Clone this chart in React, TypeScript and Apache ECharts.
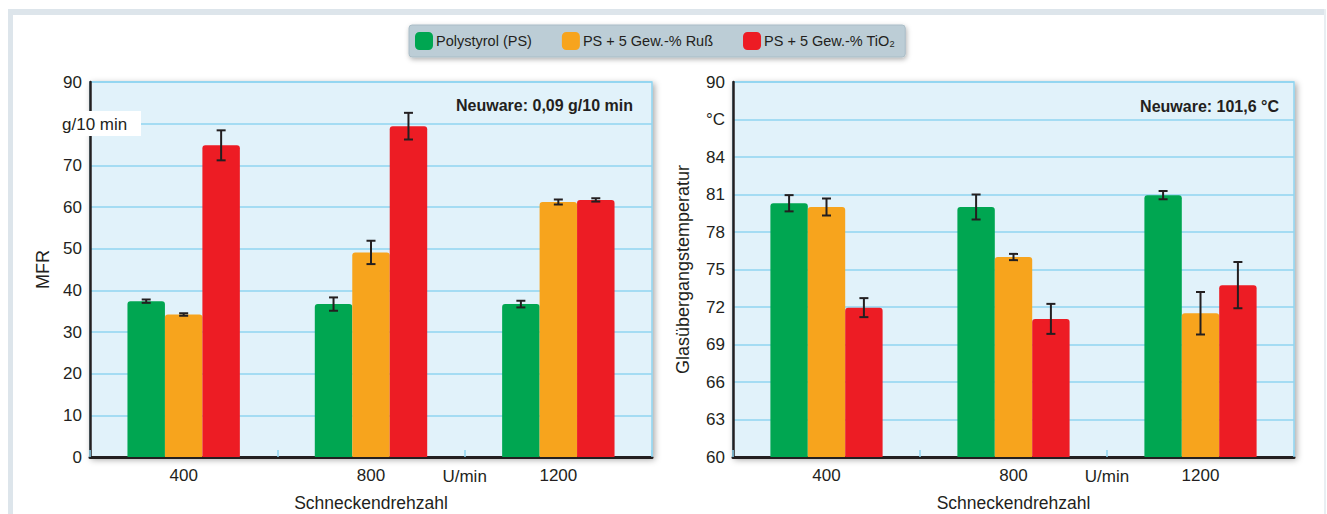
import React, { useEffect, useRef } from "react";
import * as echarts from "echarts";

const categories = ["400", "800", "1200"];
const seriesNames = ["Polystyrol (PS)", "PS + 5 Gew.-% Ruß", "PS + 5 Gew.-% TiO₂"];
const seriesColors = ["#00a651", "#f7a41d", "#ed1c24"];

// MFR (g/10 min)
const mfrPS = [37.4, 36.7, 36.7];
const mfrPSErr = [0.4, 1.6, 0.8];
const mfrRuss = [34.2, 49.1, 61.2];
const mfrRussErr = [0.3, 2.8, 0.6];
const mfrTiO2 = [74.8, 79.4, 61.7];
const mfrTiO2Err = [3.6, 3.2, 0.4];

// Glasübergangstemperatur (°C)
const tgPS = [80.3, 80.0, 80.95];
const tgPSErr = [0.65, 1.0, 0.33];
const tgRuss = [80.0, 76.0, 71.5];
const tgRussErr = [0.68, 0.25, 1.7];
const tgTiO2 = [71.95, 71.05, 73.75];
const tgTiO2Err = [0.76, 1.2, 1.85];

const mfrTicks = { min: 0, max: 90, interval: 10, unitAt: 80, unit: "g/10 min" };
const tgTicks = { min: 60, max: 90, interval: 3, unitAt: 87, unit: "°C" };

const FONT = "'Liberation Sans', Arial, sans-serif";
const TXT = "#231f20";

export default function App() {
  const ref = useRef<HTMLDivElement>(null);
  useEffect(() => {
    if (!ref.current) return;
    const chart = echarts.init(ref.current, undefined, { renderer: "svg" });

    const G0 = { left: 90, top: 82, width: 562, height: 375 };
    const G1 = { left: 733, top: 82, width: 561, height: 375 };

    const gridStyle = {
      show: true,
      outerBoundsMode: "none",
      containLabel: false,
      backgroundColor: "#e1f2fa",
      borderColor: "#8fd4f0",
      borderWidth: 1.5,
      shadowBlur: 6,
      shadowColor: "rgba(0,0,0,0.35)",
      shadowOffsetX: 2,
      shadowOffsetY: 2,
    };

    const xAxisBase = (gi: number) => ({
      type: "category",
      gridIndex: gi,
      data: categories,
      axisLine: { lineStyle: { color: TXT, width: 3 } },
      axisTick: { show: true, inside: true, length: 7, lineStyle: { color: "#8fd4f0", width: 1.5 } },
      axisLabel: { color: TXT, fontSize: 17, fontFamily: FONT, margin: 10 },
      name: "Schneckendrehzahl",
      nameLocation: "middle",
      nameGap: 37,
      nameTextStyle: { color: TXT, fontSize: 17.5, fontFamily: FONT },
    });

    const yAxisBase = (gi: number, t: any, name: string, gap: number) => ({
      type: "value",
      gridIndex: gi,
      min: t.min,
      max: t.max,
      interval: t.interval,
      axisLine: { show: true, lineStyle: { color: TXT, width: 2.5 } },
      axisTick: { show: false },
      splitLine: { lineStyle: { color: "#8fd4f0", width: 1.5 } },
      axisLabel: {
        color: TXT,
        fontSize: 17,
        fontFamily: FONT,
        margin: 8,
        formatter: (v: number) => (v === t.unitAt ? (t.unit === "°C" ? "°C" : "") : String(v)),
      },
      name,
      nameLocation: "middle",
      nameRotate: 90,
      nameGap: gap,
      nameTextStyle: { color: TXT, fontSize: 18, fontFamily: FONT },
    });

    const barSeries = (gi: number, idx: number, data: number[]) => ({
      type: "bar",
      name: seriesNames[idx],
      xAxisIndex: gi,
      yAxisIndex: gi,
      data,
      barGap: "0%",
      barCategoryGap: "40%",
      itemStyle: { color: seriesColors[idx], borderRadius: [3, 3, 0, 0] },
      z: 2,
    });

    const errSeries = (gi: number, idx: number, vals: number[], errs: number[]) => ({
      type: "custom",
      xAxisIndex: gi,
      yAxisIndex: gi,
      z: 5,
      silent: true,
      data: vals.map((v, i) => [i, v, errs[i]]),
      encode: { x: 0, y: 1 },
      renderItem: (params: any, api: any) => {
        const c = api.value(0);
        const v = api.value(1);
        const e = api.value(2);
        const bw = api.size([1, 0])[0];
        const base = api.coord([c, v]);
        const cx = base[0] + (idx - 1) * bw * 0.2;
        const hi = api.coord([c, v + e])[1];
        const lo = api.coord([c, v - e])[1];
        const cap = 4.5;
        const st = { stroke: "#231f20", lineWidth: 2 };
        return {
          type: "group",
          children: [
            { type: "line", shape: { x1: cx, y1: hi, x2: cx, y2: lo }, style: st },
            { type: "line", shape: { x1: cx - cap, y1: hi, x2: cx + cap, y2: hi }, style: st },
            { type: "line", shape: { x1: cx - cap, y1: lo, x2: cx + cap, y2: lo }, style: st },
          ],
        };
      },
    });

    const frame = "#dde5eb";
    const option: any = {
      animation: false,
      backgroundColor: "#ffffff",
      textStyle: { fontFamily: FONT },
      legend: {
        data: seriesNames,
        left: 409,
        top: 25,
        padding: [7, 10, 7, 6],
        itemWidth: 18,
        itemHeight: 18,
        itemGap: 30,
        icon: "roundRect",
        backgroundColor: "#bccdd6",
        borderColor: "#a9bcc6",
        borderWidth: 1,
        borderRadius: 3,
        shadowBlur: 5,
        shadowColor: "rgba(0,0,0,0.3)",
        shadowOffsetX: 1,
        shadowOffsetY: 2,
        textStyle: { color: TXT, fontSize: 14.5, fontFamily: FONT, padding: [0, 0, 0, -2] },
        selectedMode: false,
      },
      grid: [
        { ...G0, ...gridStyle },
        { ...G1, ...gridStyle },
      ],
      xAxis: [xAxisBase(0), xAxisBase(1)],
      yAxis: [
        yAxisBase(0, mfrTicks, "MFR", 38),
        yAxisBase(1, tgTicks, "Glasübergangstemperatur", 41),
      ],
      series: [
        barSeries(0, 0, mfrPS),
        barSeries(0, 1, mfrRuss),
        barSeries(0, 2, mfrTiO2),
        barSeries(1, 0, tgPS),
        barSeries(1, 1, tgRuss),
        barSeries(1, 2, tgTiO2),
        errSeries(0, 0, mfrPS, mfrPSErr),
        errSeries(0, 1, mfrRuss, mfrRussErr),
        errSeries(0, 2, mfrTiO2, mfrTiO2Err),
        errSeries(1, 0, tgPS, tgPSErr),
        errSeries(1, 1, tgRuss, tgRussErr),
        errSeries(1, 2, tgTiO2, tgTiO2Err),
      ],
      graphic: [
        { type: "rect", z: -10, shape: { x: 8, y: 9, width: 1318, height: 6 }, style: { fill: frame } },
        { type: "rect", z: -10, shape: { x: 8, y: 9, width: 5, height: 510 }, style: { fill: frame } },
        { type: "rect", z: -10, shape: { x: 1324, y: 9, width: 2, height: 510 }, style: { fill: "#e8eef2" } },
        {
          type: "text",
          z: 50,
          x: G0.left + G0.width - 19,
          y: 105,
          style: { text: "Neuware: 0,09 g/10 min", fill: TXT, font: `bold 16px ${FONT}`, align: "right", verticalAlign: "middle" },
        },
        {
          type: "text",
          z: 50,
          x: G1.left + G1.width - 15,
          y: 106,
          style: { text: "Neuware: 101,6 °C", fill: TXT, font: `bold 16px ${FONT}`, align: "right", verticalAlign: "middle" },
        },
        {
          type: "rect",
          z: 50,
          shape: { x: 60, y: 111, width: 81, height: 25 },
          style: { fill: "#ffffff" },
        },
        {
          type: "text",
          z: 51,
          x: 62,
          y: 124,
          style: { text: mfrTicks.unit, fill: TXT, font: `17px ${FONT}`, align: "left", verticalAlign: "middle" },
        },
        {
          type: "text",
          z: 50,
          x: G0.left + (G0.width * 2) / 3,
          y: 476,
          style: { text: "U/min", fill: TXT, font: `17px ${FONT}`, align: "center", verticalAlign: "middle" },
        },
        {
          type: "text",
          z: 50,
          x: G1.left + (G1.width * 2) / 3,
          y: 476,
          style: { text: "U/min", fill: TXT, font: `17px ${FONT}`, align: "center", verticalAlign: "middle" },
        },
      ],
    };

    chart.setOption(option);
    return () => chart.dispose();
  }, []);

  return (
    <div style={{ position: "fixed", left: 0, top: 0, width: 1327, height: 514, background: "#fff" }}>
      <div ref={ref} style={{ width: 1327, height: 514 }} />
    </div>
  );
}
